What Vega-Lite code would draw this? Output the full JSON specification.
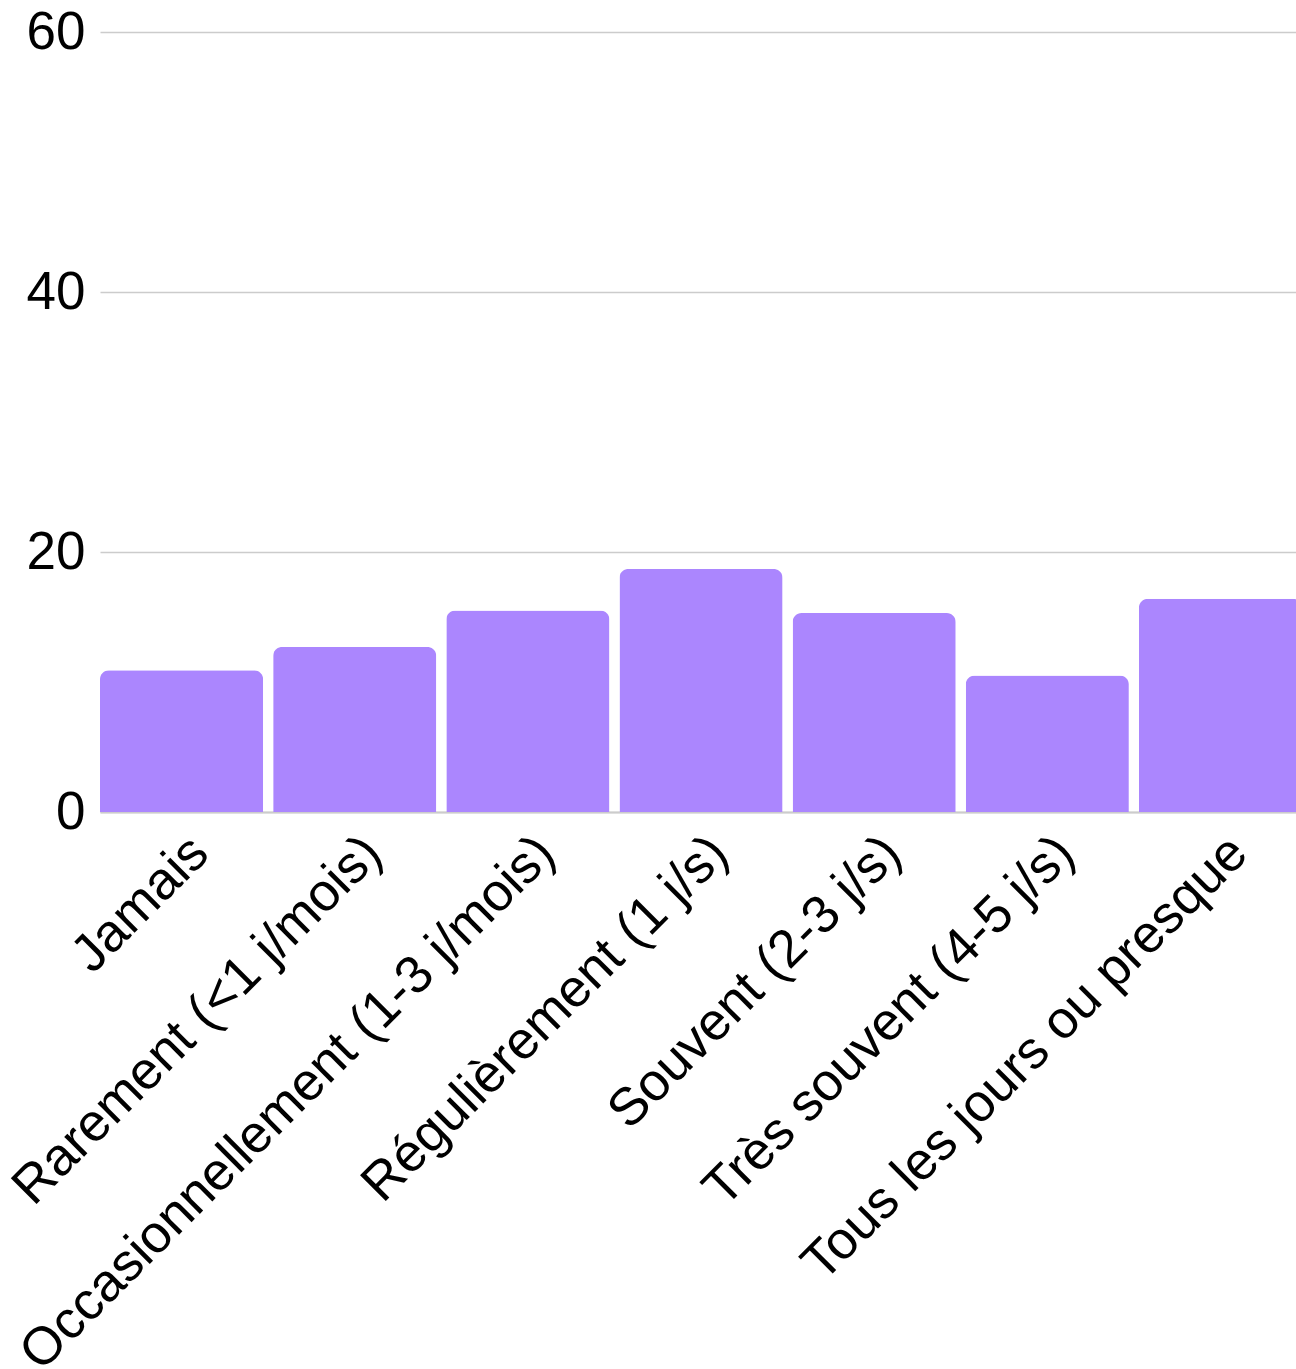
{
  "$schema": "https://vega.github.io/schema/vega-lite/v6.json",
  "autosize": "none",
  "width": 1196,
  "height": 780,
  "padding": {"left": 100, "top": 32, "right": 0, "bottom": 557},
  "background": "white",
  "config": {
    "view": {"stroke": null},
    "font": "Liberation Sans"
  },
  "data": {
    "values": [
      {"categorie": "Jamais", "valeur": 10.9},
      {"categorie": "Rarement (<1 j/mois)", "valeur": 12.7},
      {"categorie": "Occasionnellement (1-3 j/mois)", "valeur": 15.5},
      {"categorie": "Régulièrement (1 j/s)", "valeur": 18.7},
      {"categorie": "Souvent (2-3 j/s)", "valeur": 15.3},
      {"categorie": "Très souvent (4-5 j/s)", "valeur": 10.5},
      {"categorie": "Tous les jours ou presque", "valeur": 16.4}
    ]
  },
  "mark": {
    "type": "bar",
    "color": "#ab86fe",
    "cornerRadiusTopLeft": 9,
    "cornerRadiusTopRight": 9
  },
  "encoding": {
    "x": {
      "field": "categorie",
      "type": "nominal",
      "sort": null,
      "scale": {"range": [0, 1202], "paddingInner": 0.058, "paddingOuter": 0},
      "axis": {
        "title": null,
        "labelAngle": -45,
        "labelFontSize": 53,
        "labelColor": "#000000",
        "labelFont": "Liberation Sans",
        "ticks": false,
        "labelPadding": 14,
        "domainColor": "#cccccc",
        "domainWidth": 2,
        "labelLimit": 0,
        "labelOverlap": false
      }
    },
    "y": {
      "field": "valeur",
      "type": "quantitative",
      "scale": {"domain": [0, 60]},
      "axis": {
        "title": null,
        "values": [0, 20, 40, 60],
        "labelFontSize": 53,
        "labelColor": "#000000",
        "labelFont": "Liberation Sans",
        "ticks": false,
        "domain": false,
        "labelPadding": 15,
        "gridColor": "#cccccc",
        "gridWidth": 1.5
      }
    }
  }
}
